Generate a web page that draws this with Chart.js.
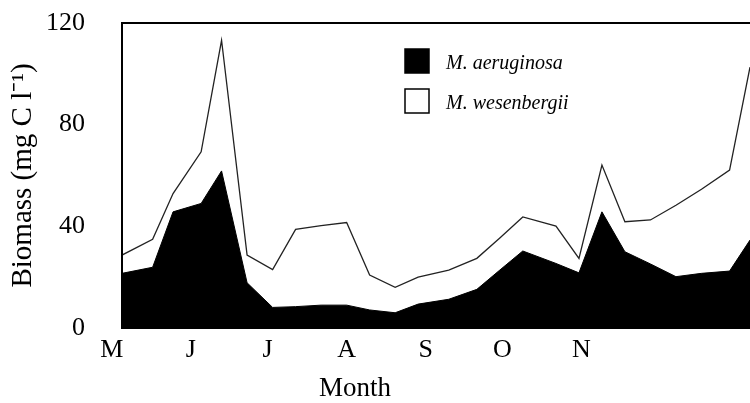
<!DOCTYPE html>
<html>
<head>
<meta charset="utf-8">
<title>Microcystis biomass</title>
<script src="https://cdn.jsdelivr.net/npm/chart.js@4"></script>
<style>
    html, body { margin: 0; padding: 0; background: #fff; }
    #wrap { width: 750px; height: 403px; }
</style>
</head>
<body>
<div id="wrap"><canvas id="biomassChart" width="750" height="403"></canvas></div>
<script>
// ==================== DATA ====================
// sampling day, counted from 1 May
const sampleDays = [4, 16, 24, 35, 43, 53, 63, 72, 82, 92, 101, 111, 120,
                    132, 143, 152, 161, 174, 183, 192, 201, 211, 221, 231, 242, 250];
// biomass, mg C l-1 (stacked: wesenbergii sits on top of aeruginosa)
const aeruginosa = [21.5, 23.9, 45.7, 49.0, 61.8, 17.8, 8.1, 8.4, 9.0, 9.0, 7.1, 6.0, 9.4,
                    11.3, 15.2, 22.8, 30.3, 25.4, 21.7, 45.7, 30.0, 25.2, 20.2, 21.5, 22.4, 34.6];
const wesenbergii = [7.2, 11.0, 7.2, 20.3, 51.4, 10.9, 14.9, 30.4, 31.3, 32.5, 13.7, 10.0, 10.6,
                     11.5, 12.2, 12.6, 13.4, 14.7, 5.7, 18.4, 11.8, 17.3, 28.1, 33.1, 39.7, 68.0];
const monthDays = [0, 31, 61, 92, 123, 153, 184];
const monthLabels = ['M', 'J', 'J', 'A', 'S', 'O', 'N'];
const yTicks = [0, 40, 80, 120];

const serif = "'Liberation Serif', 'Times New Roman', serif";

function toPoints(values) {
    return values.map((v, i) => ({ x: sampleDays[i], y: v }));
}

// ==================== PLUGINS ====================
// box round the plot area (the right side runs off the picture)
const framePlugin = {
    id: 'frame',
    afterDraw(chart) {
        const { ctx, chartArea } = chart;
        ctx.save();
        ctx.strokeStyle = '#000';
        ctx.lineWidth = 2;
        ctx.beginPath();
        ctx.moveTo(chartArea.left, chartArea.bottom);
        ctx.lineTo(chartArea.left, chartArea.top);
        ctx.lineTo(chartArea.right + 2, chartArea.top);
        ctx.stroke();
        ctx.restore();
    }
};

// "Month" sits under the middle of the original (wider) plot, not this crop
const monthTitle = {
    id: 'monthTitle',
    afterDraw(chart) {
        const { ctx, chartArea } = chart;
        ctx.save();
        ctx.font = '27px ' + serif;
        ctx.fillStyle = '#000';
        ctx.textAlign = 'center';
        ctx.textBaseline = 'middle';
        ctx.fillText('Month', chartArea.left + 233, 389);
        ctx.restore();
    }
};

// legend inside the plot, filled / open squares
const insideLegend = {
    id: 'insideLegend',
    afterDraw(chart) {
        const { ctx, chartArea } = chart;
        const x = chartArea.left + 283;
        let y = chartArea.top + 26;
        ctx.save();
        ctx.font = 'italic 20px ' + serif;
        ctx.textBaseline = 'alphabetic';
        chart.data.datasets.forEach(ds => {
            ctx.fillStyle = ds.legendFill;
            ctx.fillRect(x, y, 24, 24);
            ctx.strokeStyle = '#000';
            ctx.lineWidth = 1.5;
            ctx.strokeRect(x, y, 24, 24);
            ctx.fillStyle = '#000';
            ctx.fillText(ds.label, x + 41, y + 20);
            y += 40;
        });
        ctx.restore();
    }
};

// ==================== CHART ====================
const ctx = document.getElementById('biomassChart').getContext('2d');
new Chart(ctx, {
    type: 'line',
    data: {
        datasets: [
            {
                label: 'M. aeruginosa',
                data: toPoints(aeruginosa),
                borderColor: '#000',
                backgroundColor: '#000',
                legendFill: '#000',
                borderWidth: 1,
                fill: 'origin',
                pointRadius: 0,
                tension: 0
            },
            {
                label: 'M. wesenbergii',
                data: toPoints(wesenbergii),
                borderColor: '#222',
                backgroundColor: '#fff',
                legendFill: '#fff',
                borderWidth: 1.3,
                fill: '-1',
                pointRadius: 0,
                tension: 0
            }
        ]
    },
    options: {
        responsive: false,
        animation: false,
        devicePixelRatio: 1,
        layout: { padding: { left: 9, top: 23, right: 0, bottom: 0 } },
        plugins: {
            legend: { display: false },
            tooltip: { enabled: false }
        },
        scales: {
            x: {
                type: 'linear',
                bounds: 'data',
                min: sampleDays[0],
                max: sampleDays[sampleDays.length - 1],
                afterBuildTicks(scale) {
                    // listed last-to-first so the "M" label left of the plot
                    // doesn't get counted as edge padding
                    scale.ticks = monthDays.slice().reverse().map(d => ({ value: d }));
                },
                afterFit(scale) {
                    scale.paddingLeft = 0;
                    scale.paddingRight = 0;
                    scale.height = 75; // room for the month labels + "Month"
                },
                grid: { display: false, drawTicks: false },
                border: { display: true, color: '#000', width: 2 },
                ticks: {
                    autoSkip: false,
                    maxRotation: 0,
                    padding: 7,
                    color: '#000',
                    font: { family: serif, size: 26 },
                    callback: value => monthLabels[monthDays.indexOf(value)]
                },
                title: { display: false }
            },
            y: {
                stacked: true,
                min: 0,
                max: 120,
                afterBuildTicks(scale) {
                    scale.ticks = yTicks.map(v => ({ value: v }));
                },
                afterFit(scale) {
                    scale.paddingTop = 0;
                    scale.paddingBottom = 0;
                    scale.width = 113;
                },
                grid: { display: false, drawTicks: false },
                border: { display: true, color: '#000', width: 2 },
                ticks: {
                    padding: 37,
                    color: '#000',
                    font: { family: serif, size: 26 }
                },
                title: {
                    display: true,
                    text: 'Biomass (mg C l\u207B\u00B9)',
                    color: '#000',
                    font: { family: serif, size: 29, lineHeight: 1 },
                    padding: { top: 0, bottom: 9 }
                }
            }
        }
    },
    plugins: [framePlugin, monthTitle, insideLegend]
});
</script>
</body>
</html>
